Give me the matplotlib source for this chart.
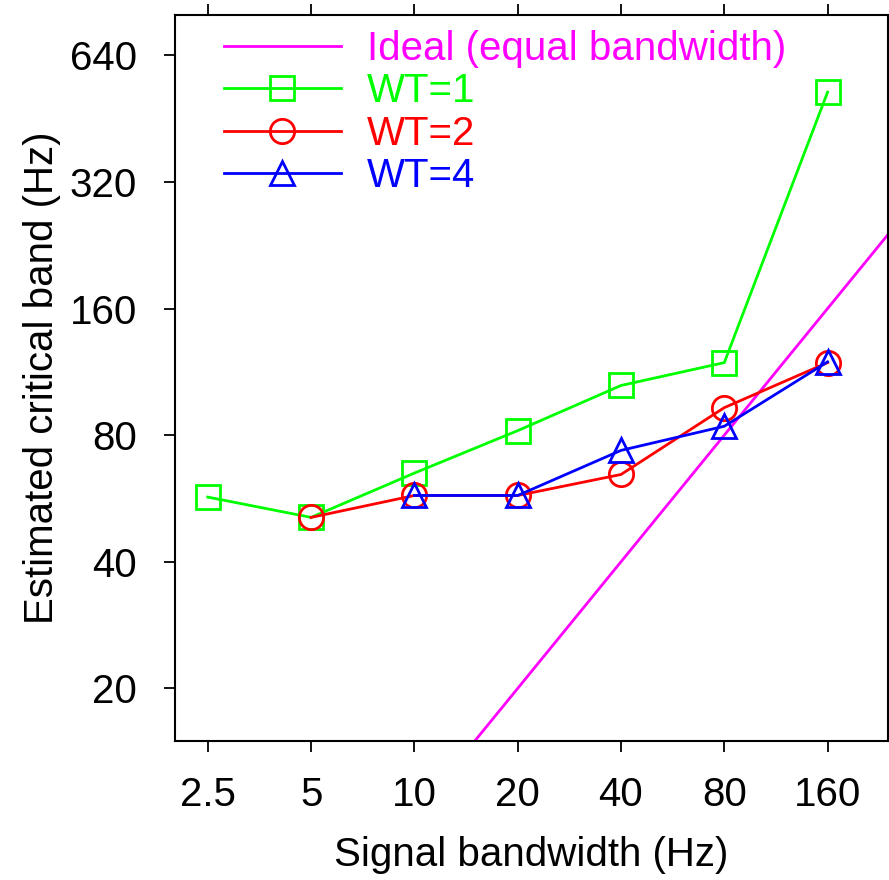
import matplotlib
matplotlib.use("Agg")
import matplotlib.pyplot as plt
from matplotlib.ticker import FixedLocator, FixedFormatter, NullLocator

plt.rcParams['font.family'] = ['Liberation Sans', 'DejaVu Sans']

x_ticks = [2.5, 5, 10, 20, 40, 80, 160]
x_tick_labels = ["2.5", "5", "10", "20", "40", "80", "160"]
y_ticks = [20, 40, 80, 160, 320, 640]
y_tick_labels = ["20", "40", "80", "160", "320", "640"]

ideal_x = [15, 240]
ideal_y = [15, 240]

wt1_x = [2.5, 5, 10, 20, 40, 80, 160]
wt1_y = [57, 51, 65, 82, 105, 119, 523]

wt2_x = [5, 10, 20, 40, 80, 160]
wt2_y = [51, 57.5, 57.5, 64.5, 93, 119]

wt4_x = [10, 20, 40, 80, 160]
wt4_y = [57.5, 57.5, 73.6, 84, 119.5]

fig = plt.figure(figsize=(8.89, 8.8), dpi=100)
ax = fig.add_axes([0.1963, 0.158, 0.8026, 0.8255])

lw = 2.0
ms = 17.5
mew = 2.0
ax.plot(ideal_x, ideal_y, color='#ff00ff', lw=lw, label='Ideal (equal bandwidth)')
ax.plot(wt1_x, wt1_y, color='#00ff00', lw=lw, marker='s', ms=ms, mfc='none', mew=mew,
        label='WT=1')
ax.plot(wt2_x, wt2_y, color='#ff0000', lw=lw, marker='o', ms=ms, mfc='none', mew=mew,
        label='WT=2')
ax.plot(wt4_x, wt4_y, color='#0000ff', lw=lw, marker='^', ms=ms, mfc='none', mew=mew,
        label='WT=4')

ax.set_xscale('log', base=2)
ax.set_yscale('log', base=2)
ax.set_xlim(2.0, 240)
ax.set_ylim(15, 800)

ax.xaxis.set_major_locator(FixedLocator(x_ticks))
ax.xaxis.set_major_formatter(FixedFormatter(x_tick_labels))
ax.xaxis.set_minor_locator(NullLocator())
ax.yaxis.set_major_locator(FixedLocator(y_ticks))
ax.yaxis.set_major_formatter(FixedFormatter(y_tick_labels))
ax.yaxis.set_minor_locator(NullLocator())

ax.tick_params(which='major', direction='out', length=8, width=1.3, labelsize=29,
               top=True, right=True)
ax.tick_params(axis='x', pad=17)
ax.tick_params(axis='y', pad=19)
for s in ax.spines.values():
    s.set_linewidth(1.5)

ax.set_xlabel('Signal bandwidth (Hz)', fontsize=29, labelpad=16)
ax.set_ylabel('Estimated critical band (Hz)', fontsize=29, labelpad=6)

leg = ax.legend(loc='upper left', bbox_to_anchor=(0.069, 0.979), frameon=False,
                fontsize=29, handlelength=2.9, handletextpad=0.65, labelspacing=0.11,
                borderpad=0.0, borderaxespad=0.0, labelcolor='linecolor', numpoints=1)

fig.savefig('out.png', dpi=100)
